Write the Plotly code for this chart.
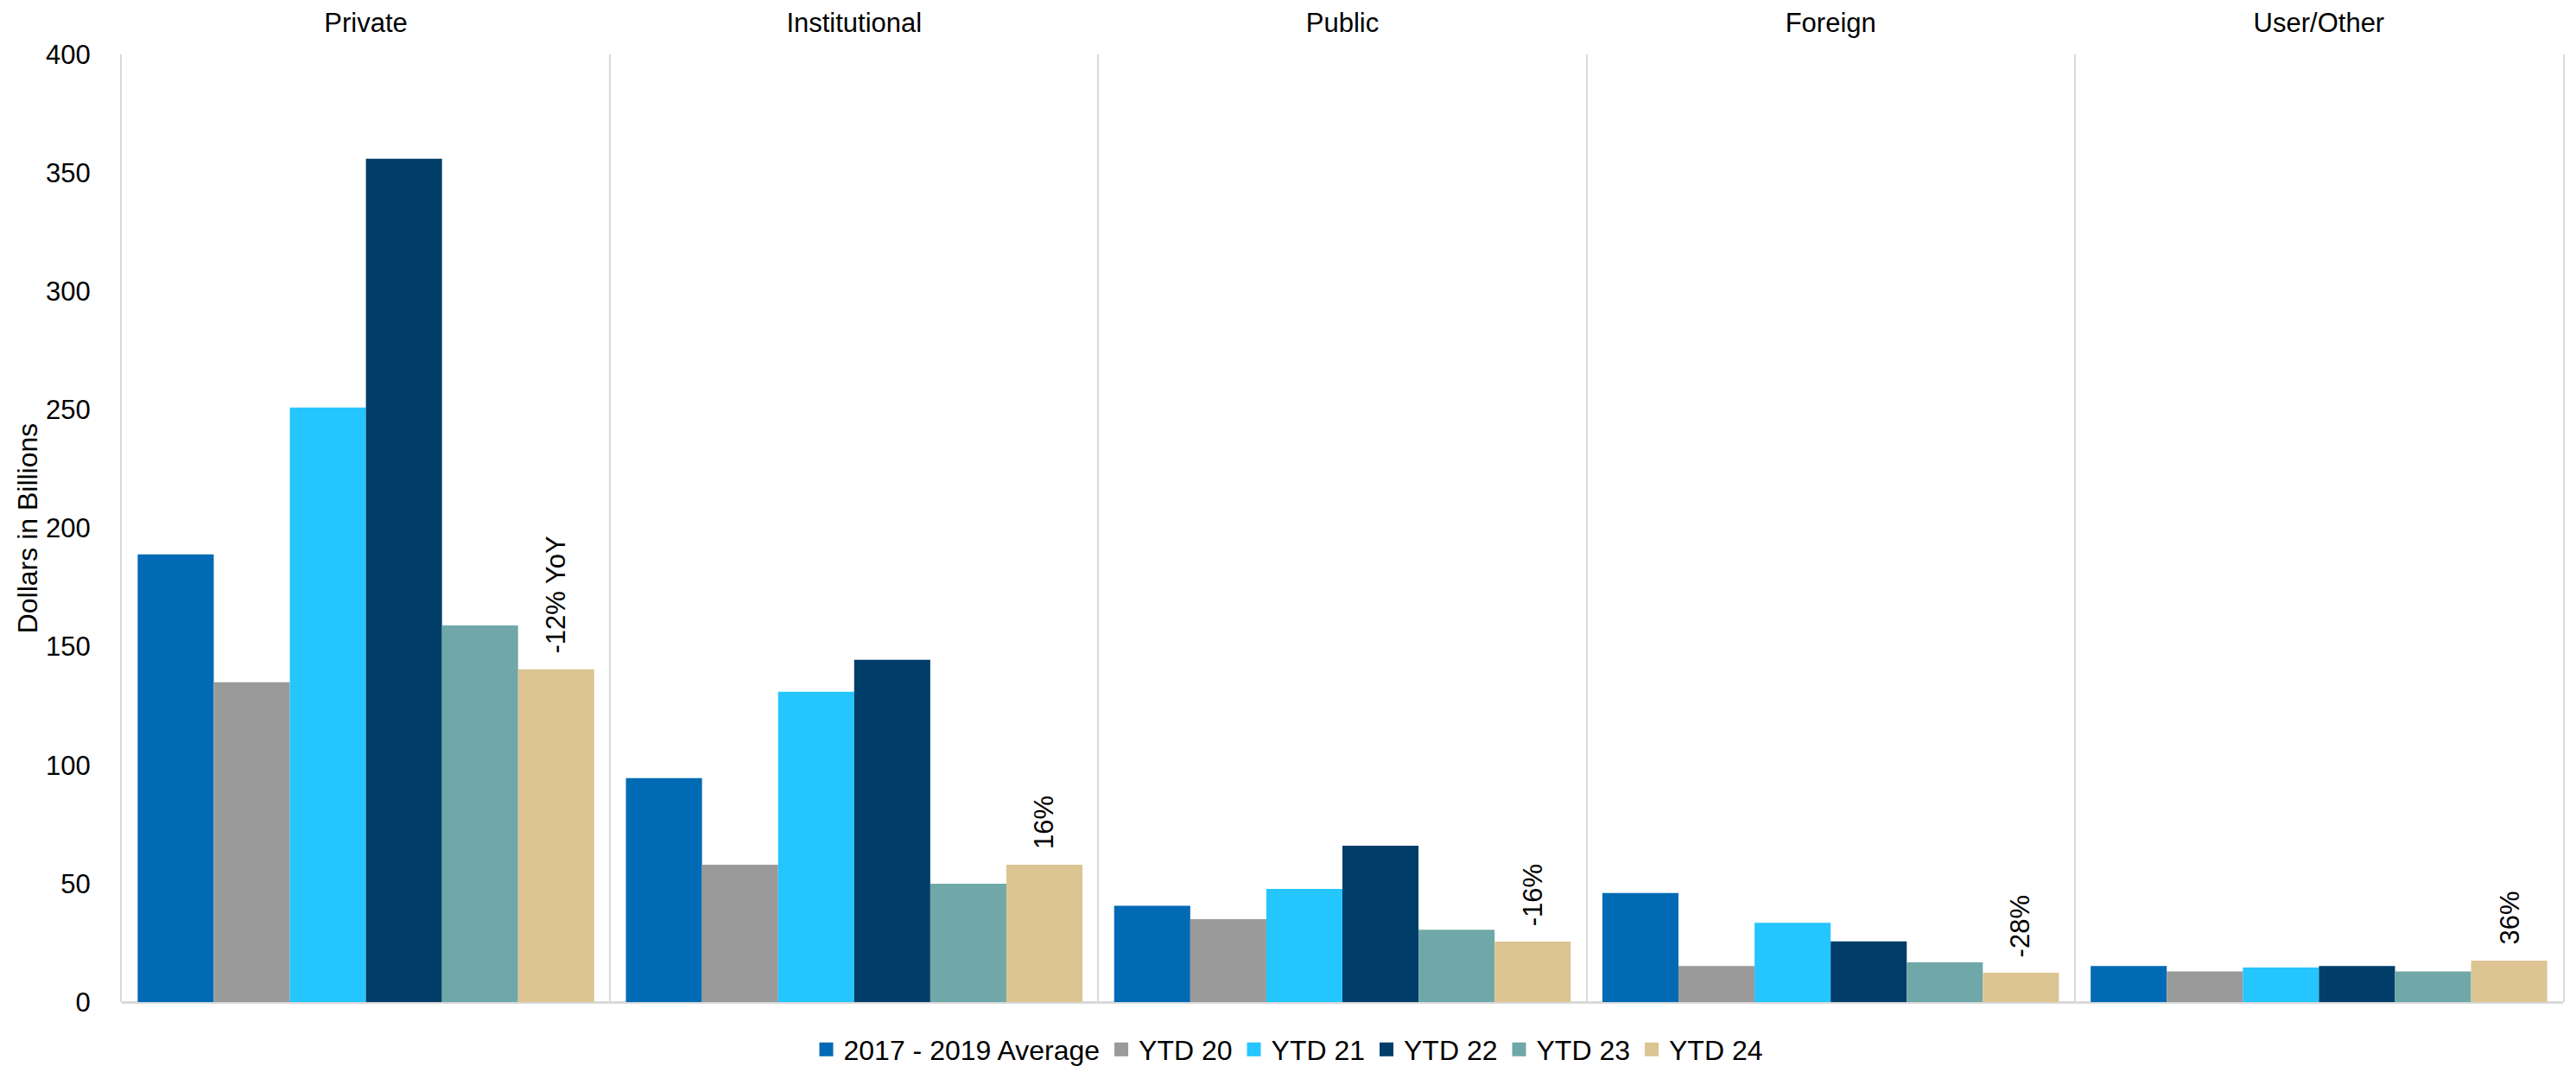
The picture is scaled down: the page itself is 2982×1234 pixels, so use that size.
import plotly.graph_objects as go

categories = ["Private", "Institutional", "Public", "Foreign", "User/Other"]
series_names = ["2017 - 2019 Average", "YTD 20", "YTD 21", "YTD 22", "YTD 23", "YTD 24"]
avg_17_19 = [189, 94.5, 40.7, 46, 15.2]
ytd20 = [135, 58, 35, 15.2, 12.9]
ytd21 = [251, 131, 47.8, 33.5, 14.6]
ytd22 = [356, 144.5, 66, 25.6, 15.2]
ytd23 = [159, 50, 30.5, 16.8, 12.9]
ytd24 = [140.5, 58, 25.5, 12.4, 17.5]
yoy_labels = ["-12% YoY", "16%", "-16%", "-28%", "36%"]
y_ticks = [0, 50, 100, 150, 200, 250, 300, 350, 400]

colors = ["#006AB5", "#9A9A9A", "#25C5FF", "#003D69", "#70A8A9", "#DCC592"]
series = [avg_17_19, ytd20, ytd21, ytd22, ytd23, ytd24]

FONT = "Liberation Sans, Arial, sans-serif"
BARGAP = 0.065

fig = go.Figure()
for name, vals, col in zip(series_names, series, colors):
    fig.add_trace(go.Bar(
        x=categories, y=vals, name=name, showlegend=False,
        marker=dict(color=col, line=dict(width=0)),
    ))
# legend entries with larger square swatches
for name, col in zip(series_names, colors):
    fig.add_trace(go.Scatter(
        x=[None], y=[None], name=name, mode="markers",
        marker=dict(symbol="square", size=17, color=col, line=dict(width=0)),
        showlegend=True, hoverinfo="skip",
    ))

# annotations above the last series bars
n = len(series)
bw = (1 - BARGAP) / n
for i, (lab, v) in enumerate(zip(yoy_labels, ytd24)):
    xc = i - (1 - BARGAP) / 2 + bw * (n - 0.5)
    fig.add_annotation(
        x=xc, y=v, xref="x", yref="y", text=lab, textangle=-90,
        showarrow=False, xanchor="center", yanchor="bottom", yshift=16,
        font=dict(family=FONT, size=31, color="#000000"),
    )

fig.update_layout(
    width=2982, height=1234,
    barmode="group", bargap=BARGAP, bargroupgap=0,
    paper_bgcolor="white", plot_bgcolor="white",
    margin=dict(l=141, r=15, t=63, b=74, autoexpand=False),
    font=dict(family=FONT, size=31, color="#000000"),
    showlegend=True,
    legend=dict(
        orientation="h", xref="container", yref="container",
        x=0.5, xanchor="center", y=0.0154, yanchor="middle",
        font=dict(family=FONT, size=32, color="#000000"),
        itemwidth=30, tracegroupgap=0, borderwidth=0,
    ),
    xaxis=dict(
        type="category", side="top", tickson="boundaries",
        showgrid=True, gridcolor="#D9D9D9", gridwidth=2,
        showline=False, ticks="", ticklabelstandoff=19,
        range=[-0.5, 4.5],
        tickfont=dict(family=FONT, size=31, color="#000000"),
    ),
    yaxis=dict(
        range=[0, 400], tickvals=y_ticks, ticktext=[str(t) for t in y_ticks],
        showgrid=False, showline=True, mirror=True, linecolor="#D9D9D9", linewidth=2,
        zeroline=True, zerolinecolor="#D9D9D9", zerolinewidth=3,
        ticks="", ticklabelstandoff=28,
        tickfont=dict(family=FONT, size=31, color="#000000"),
        title=dict(text="Dollars in Billions", standoff=0,
                   font=dict(family=FONT, size=32, color="#000000")),
        automargin=False,
    ),
)

fig.write_html("out.html")
